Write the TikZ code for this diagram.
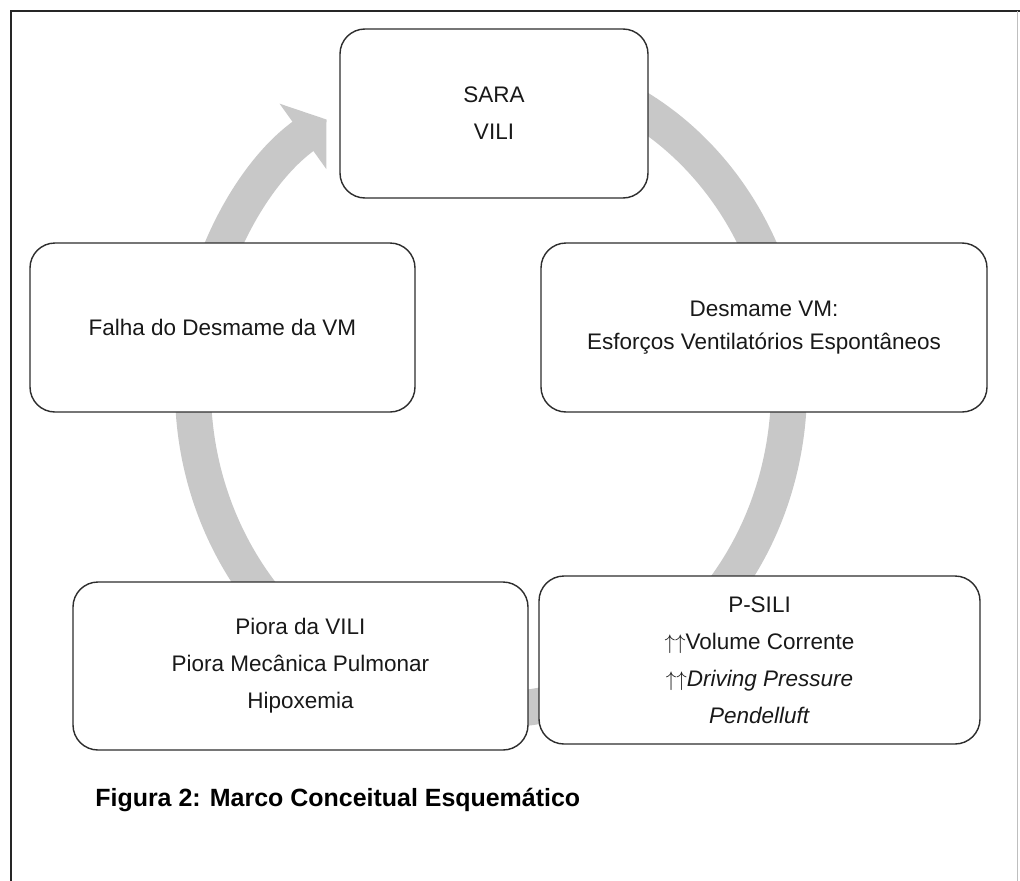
\documentclass[tikz,border=0pt]{standalone}
\usepackage{fontspec}
\setmainfont{Liberation Sans}
\usepackage{tikz}
\usetikzlibrary{arrows.meta}
\definecolor{ringgray}{RGB}{200,200,200}
\definecolor{boxline}{RGB}{45,45,45}
\tikzstyle{box}=[shape=rectangle,draw=boxline,line width=0.8pt,fill=white,rounded corners=0.5cm,
  align=center,text=black!90,font=\fontsize{12.8}{21}\selectfont]
\tikzstyle{ring}=[draw=ringgray,line width=0.72cm,-{Triangle[length=0.58cm,width=1.58cm]}]
\tikzstyle{frame}=[draw=black!85,line width=0.8pt]

\begin{document}
\begin{tikzpicture}
            \useasboundingbox (0,0) rectangle (20.4,-17.6);
            % outer frame
            \draw[frame] (0.22,-17.8) -- (0.22,-0.22) -- (20.5,-0.22);
            \draw[draw=black!25,line width=0.5pt] (20.34,-0.22) -- (20.34,-17.8);
            % cycle ring
            \draw[ring] (9.82,-7.76) ++(80:5.96 and 6.44)
                arc[start angle=80, end angle=-236.5, x radius=5.96, y radius=6.44]
            ;
            \node[box, minimum width=6.16cm, minimum height=3.38cm] (sara) at (9.88, -2.27)
                {SARA\\VILI}
            ;
            \node[box, minimum width=7.70cm, minimum height=3.38cm] (falha) at (4.45, -6.55)
                {Falha do Desmame da VM}
            ;
            \node[box, minimum width=8.92cm, minimum height=3.38cm,
                  font=\fontsize{12.8}{18.7}\selectfont] (desmame) at (15.28, -6.55)
                {Desmame VM:\\Esforços Ventilatórios Espontâneos}
            ;
            \node[box, minimum width=9.10cm, minimum height=3.36cm] (piora) at (6.01, -13.32)
                {Piora da VILI\\Piora Mecânica Pulmonar\\Hipoxemia}
            ;
            \node[box, minimum width=8.82cm, minimum height=3.36cm] (psili) at (15.19, -13.20)
                {P-SILI\\$\uparrow\uparrow$Volume Corrente\\$\uparrow\uparrow$\textit{Driving Pressure}\\\textit{Pendelluft}}
            ;
            \node[anchor=base west, inner sep=0pt, font=\fontsize{14.2}{17}\selectfont\bfseries] (caption) at (1.9, -16.12)
                {Figura 2: Marco Conceitual Esquemático}
            ;
\end{tikzpicture}
\end{document}
